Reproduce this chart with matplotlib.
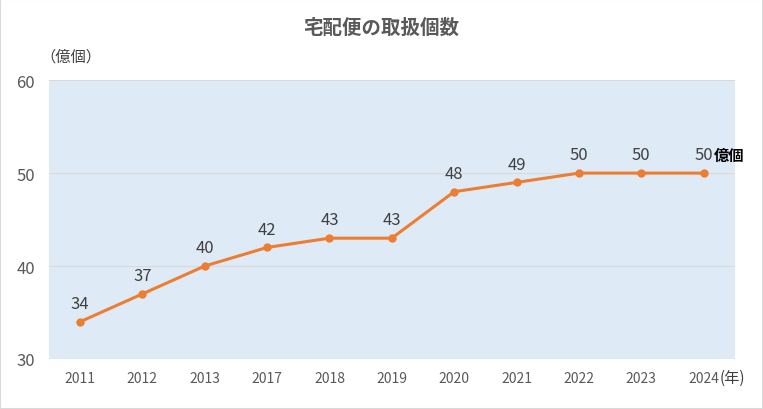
import matplotlib.pyplot as plt
from matplotlib.patches import Rectangle

plt.rcParams['font.family'] = ['Noto Sans CJK JP', 'DejaVu Sans']

years = ['2011', '2012', '2013', '2017', '2018', '2019', '2020', '2021', '2022', '2023', '2024']
counts = [34, 37, 40, 42, 43, 43, 48, 49, 50, 50, 50]

fig = plt.figure(figsize=(7.63, 4.10), dpi=100)
ax = fig.add_axes([0.064, 0.122, 0.899, 0.680])
ax.set_facecolor('#deebf7')

x = list(range(len(years)))
ax.plot(x, counts, color='#ed7d31', linewidth=2.2, marker='o', markersize=5, zorder=3)

ax.set_xlim(-0.5, len(years) - 0.5)
ax.set_ylim(30, 60)
ax.set_yticks([30, 40, 50, 60])
ax.set_xticks(x)
ax.set_xticklabels(years)
ax.grid(axis='y', color='#d9d9d9', linewidth=0.8)
ax.set_axisbelow(True)
for s in ax.spines.values():
    s.set_visible(False)
ax.tick_params(axis='both', length=0, colors='#595959')
ax.tick_params(axis='y', labelsize=12, pad=10)
ax.tick_params(axis='x', labelsize=10, pad=9)

for xi, v in zip(x, counts):
    ax.annotate(str(v), (xi, v), xytext=(0, 7), textcoords='offset points',
                ha='center', va='bottom', fontsize=12, color='#404040')

ax.annotate('億個', (x[-1], counts[-1]), xytext=(7.5, 7), textcoords='offset points',
            ha='left', va='bottom', fontsize=11, color='black', fontweight='bold')

fig.text(0.5, 0.93, '宅配便の取扱個数', ha='center', va='center',
         fontsize=14, fontweight='bold', color='#595959')
fig.text(0.053, 0.862, '（億個）', ha='left', va='center', fontsize=11, color='#404040')
fig.text(0.943, 0.078, '(年)', ha='left', va='center', fontsize=11, color='#404040')

fig.patches.append(Rectangle((0, 0), 1, 1, transform=fig.transFigure, fill=False,
                             edgecolor='#d9d9d9', linewidth=1.5))

fig.savefig('out.png', dpi=100)
